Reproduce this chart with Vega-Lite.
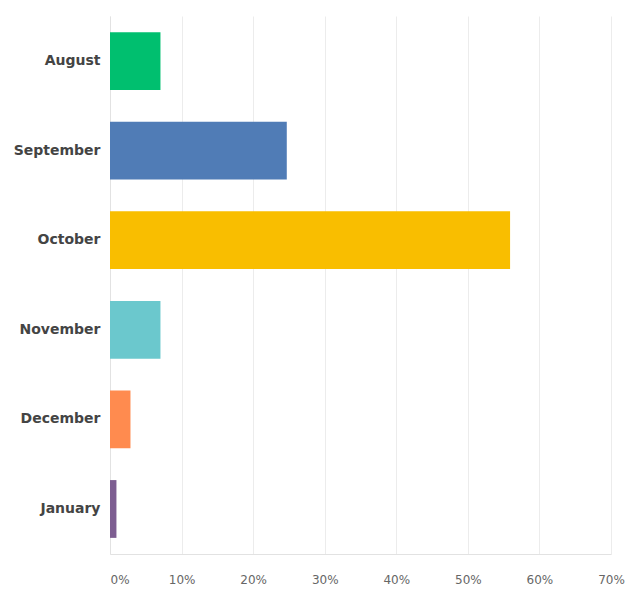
{
  "$schema": "https://vega.github.io/schema/vega-lite/v6.json",
  "autosize": "none",
  "width": 501,
  "height": 538,
  "padding": {"left": 110, "top": 16, "right": 17, "bottom": 36},
  "background": "white",
  "data": {
    "values": [
      {"month": "August", "pct": 0.0705},
      {"month": "September", "pct": 0.247},
      {"month": "October", "pct": 0.559},
      {"month": "November", "pct": 0.0705},
      {"month": "December", "pct": 0.0286},
      {"month": "January", "pct": 0.009}
    ]
  },
  "config": {
    "view": {"stroke": null},
    "axis": {"domainColor": "#e2e2e2", "gridColor": "#ececec", "ticks": false}
  },
  "mark": {"type": "bar"},
  "encoding": {
    "y": {
      "field": "month",
      "type": "nominal",
      "sort": ["August", "September", "October", "November", "December", "January"],
      "scale": {"paddingInner": 0.355, "paddingOuter": 0.18},
      "axis": {
        "title": null,
        "labelFont": "DejaVu Sans",
        "labelFontWeight": "bold",
        "labelFontSize": 14,
        "labelColor": "#444444",
        "labelPadding": 10,
        "grid": false,
        "domain": true
      }
    },
    "x": {
      "field": "pct",
      "type": "quantitative",
      "scale": {"domain": [0, 0.7], "nice": false},
      "axis": {
        "title": null,
        "format": ".0%",
        "values": [0, 0.1, 0.2, 0.3, 0.4, 0.5, 0.6, 0.7],
        "labelFont": "DejaVu Sans",
        "labelFontSize": 12,
        "labelColor": "#666666",
        "labelPadding": 20,
        "labelFlush": false,
        "labelAlign": {"condition": {"test": "datum.value === 0", "value": "left"}, "value": "center"},
        "grid": true
      }
    },
    "color": {
      "field": "month",
      "type": "nominal",
      "legend": null,
      "scale": {
        "domain": ["August", "September", "October", "November", "December", "January"],
        "range": ["#00BF6F", "#507CB6", "#F9BE00", "#6BC8CD", "#FF8B4F", "#7D5E91"]
      }
    }
  }
}
